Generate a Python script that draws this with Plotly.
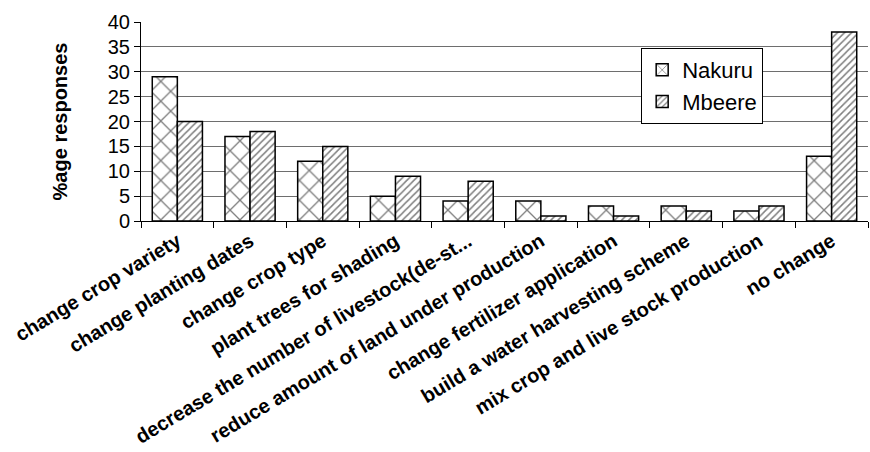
import plotly.graph_objects as go

categories = [
    "change crop variety",
    "change planting dates",
    "change crop type",
    "plant trees for shading",
    "decrease the number of livestock(de-st...",
    "reduce amount of land under production",
    "change fertilizer application",
    "build a water harvesting scheme",
    "mix crop and live stock production",
    "no change",
]
nakuru = [29, 17, 12, 5, 4, 4, 3, 3, 2, 13]
mbeere = [20, 18, 15, 9, 8, 1, 1, 2, 3, 38]
y_ticks = [0, 5, 10, 15, 20, 25, 30, 35, 40]

FONT = "Arial, Liberation Sans, sans-serif"

fig = go.Figure()
fig.add_trace(go.Bar(
    name="Nakuru", x=categories, y=nakuru,
    marker=dict(color="white", line=dict(color="black", width=1.5),
                pattern=dict(shape="x", fgcolor="black", bgcolor="white",
                             size=14, solidity=0.18)),
))
fig.add_trace(go.Bar(
    name="Mbeere", x=categories, y=mbeere,
    marker=dict(color="white", line=dict(color="black", width=1.5),
                pattern=dict(shape="/", fgcolor="black", bgcolor="white",
                             size=5, solidity=0.3)),
))

fig.update_layout(
    width=870, height=452,
    margin=dict(l=141, r=2, t=22, b=231),
    paper_bgcolor="white", plot_bgcolor="white",
    barmode="group", bargap=0.31, bargroupgap=0,
    font=dict(family=FONT, color="black"),
    showlegend=True,
    legend=dict(
        x=0.688, y=0.869, xanchor="left", yanchor="top",
        bgcolor="white", bordercolor="black", borderwidth=1,
        font=dict(size=22, family=FONT, color="black"),
        tracegroupgap=0, itemwidth=30,
    ),
    xaxis=dict(
        tickangle=-31, tickfont=dict(size=20, family=FONT, color="black",
                                     weight="bold"),
        showline=True, linecolor="black", linewidth=1,
        ticks="outside", ticklen=6, tickcolor="black",
        tickson="boundaries", showgrid=False,
    ),
    yaxis=dict(
        range=[0, 40], tickvals=y_ticks,
        tickfont=dict(size=20, family=FONT, color="black"),
        showline=True, linecolor="black", linewidth=1,
        ticks="outside", ticklen=6, tickcolor="black",
        showgrid=True, gridcolor="#6e6e6e", gridwidth=1,
        zeroline=False,
        title=dict(text="<b>%age responses</b>", font=dict(size=20, family=FONT),
                   standoff=34),
    ),
)

fig.write_html("out.html")
